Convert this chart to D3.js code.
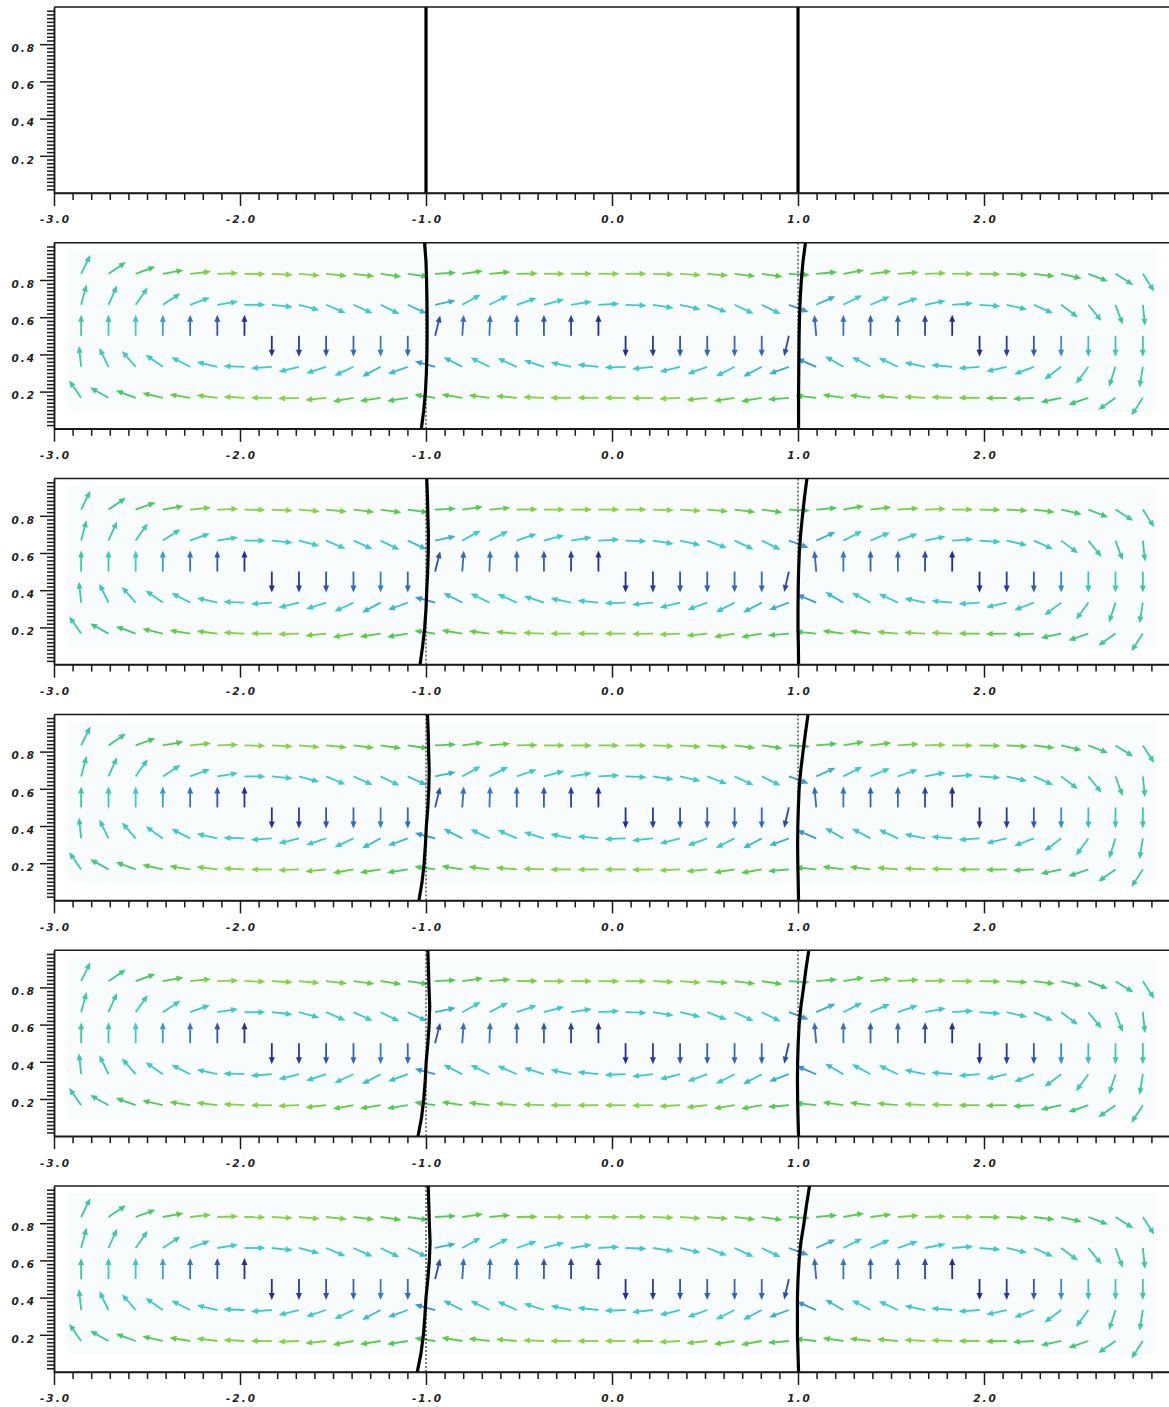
<!DOCTYPE html>
<html>
<head>
<meta charset="utf-8">
<script src="https://cdn.jsdelivr.net/npm/d3@7"></script>
<style>
	body { margin: 0; background: #fff; }
	svg { display: block; }
	.axis text { font-family: "DejaVu Sans", sans-serif; font-size: 10.5px; font-weight: bold; font-style: italic; letter-spacing: 2px; fill: #222; }
	.axis path, .axis line { stroke: #1a1a1a; stroke-width: 1.5; }
</style>
</head>
<body>
<div id="chart"></div>
<script>
// grid of the velocity field (columns / rows)
var gridX = [-2.854, -2.707, -2.561, -2.415, -2.268, -2.122, -1.976, -1.829, -1.683, -1.537,
	-1.390, -1.244, -1.098, -0.951, -0.805, -0.659, -0.512, -0.366, -0.220, -0.073,
	0.073, 0.220, 0.366, 0.512, 0.659, 0.805, 0.951, 1.098, 1.244, 1.390,
	1.537, 1.683, 1.829, 1.976, 2.122, 2.268, 2.415, 2.561, 2.707, 2.854];
var gridY = [0.1667, 0.3333, 0.5, 0.6667, 0.8333];

// arrow direction (degrees, counter-clockwise from +x) per row, bottom to top
var angleRow1 = [125, 151, 160, 167, 171, 173, 177, 180, 182, 186, 190, 189, 189, 172, 171, 173, 175, 178, 180, 180,
	180, 181, 183, 186, 189, 190, 185, 174, 172, 173, 175, 177, 178, 180, 181, 183, 192, 199, 215, 237];
var angleRow2 = [96, 116, 131, 145, 153, 167, 178, 184, 194, 198, 205, 208, 200, 165, 153, 154, 156, 162, 168, 174,
	182, 186, 194, 200, 207, 208, 200, 157, 150, 152, 155, 168, 175, 184, 193, 201, 217, 234, 252, 261];
var angleRow3 = [90, 90, 90, 90, 90, 90, 90, -90, -90, -90, -90, -90, -90, 76, 86, 88, 90, 90, 90, 90,
	-90, -90, -90, -90, -90, -90, -103, 95, 90, 90, 90, 90, 90, -90, -90, -90, -90, -90, -90, -90];
var angleRow4 = [75, 66, 55, 33, 20, 9, 0, -6, -15, -23, -24, -26, -25, 12, 29, 27, 19, 15, 9, 3,
	-2, -9, -13, -21, -25, -26, -20, 24, 27, 23, 19, 11, 4, -4, -13, -24, -37, -51, -70, -84];
var angleRow5 = [64, 34, 20, 10, 6, 2, -1, -3, -5, -6, -7, -8, -8, 3, 8, 5, 1, 0, 0, 0,
	0, -2, -4, -5, -7, -8, -3, 5, 10, 7, 4, 2, 0, -1, -3, -7, -13, -21, -32, -57];

// relative speed (colour level) per row, bottom to top
var speedRow1 = [0.6, 0.68, 0.76, 0.82, 0.86, 0.88, 0.9, 0.9, 0.9, 0.88, 0.86, 0.84, 0.8, 0.8, 0.84, 0.86, 0.88, 0.9, 0.9, 0.9,
	0.9, 0.9, 0.9, 0.88, 0.86, 0.84, 0.8, 0.8, 0.84, 0.86, 0.88, 0.9, 0.9, 0.88, 0.86, 0.8, 0.76, 0.72, 0.65, 0.62];
var speedRow2 = [0.6, 0.56, 0.54, 0.52, 0.52, 0.52, 0.52, 0.52, 0.52, 0.52, 0.52, 0.5, 0.5, 0.42, 0.5, 0.52, 0.52, 0.52, 0.52, 0.52,
	0.52, 0.52, 0.52, 0.52, 0.52, 0.5, 0.48, 0.42, 0.5, 0.52, 0.52, 0.52, 0.52, 0.52, 0.52, 0.54, 0.56, 0.58, 0.6, 0.62];
var speedRow3 = [0.64, 0.58, 0.52, 0.45, 0.34, 0.25, 0.1, 0.1, 0.16, 0.24, 0.3, 0.36, 0.3, 0.22, 0.32, 0.34, 0.3, 0.26, 0.18, 0.08,
	0.08, 0.16, 0.24, 0.28, 0.3, 0.3, 0.2, 0.3, 0.34, 0.28, 0.3, 0.2, 0.08, 0.06, 0.16, 0.26, 0.4, 0.5, 0.58, 0.64];
var speedRow4 = [0.62, 0.6, 0.58, 0.56, 0.54, 0.52, 0.52, 0.52, 0.52, 0.52, 0.52, 0.52, 0.5, 0.48, 0.52, 0.52, 0.52, 0.52, 0.52, 0.52,
	0.52, 0.52, 0.52, 0.52, 0.52, 0.52, 0.45, 0.48, 0.52, 0.52, 0.52, 0.52, 0.52, 0.52, 0.54, 0.56, 0.58, 0.6, 0.62, 0.64];
var speedRow5 = [0.62, 0.7, 0.78, 0.82, 0.88, 0.9, 0.9, 0.9, 0.9, 0.88, 0.86, 0.84, 0.8, 0.8, 0.84, 0.86, 0.88, 0.9, 0.9, 0.9,
	0.9, 0.9, 0.9, 0.88, 0.86, 0.84, 0.8, 0.8, 0.84, 0.86, 0.88, 0.9, 0.9, 0.88, 0.86, 0.82, 0.78, 0.72, 0.65, 0.6];

// interface positions per panel (x at each interfaceY)
var interfaceY = [0, 0.1, 0.2, 0.3, 0.4, 0.5, 0.6, 0.7, 0.8, 0.9, 1.0];
var leftInterface = [
	[-1, -1, -1, -1, -1, -1, -1, -1, -1, -1, -1],
	[-1.025, -1.012, -1.003, -0.998, -0.995, -0.994, -0.994, -0.995, -0.997, -1.0, -1.008],
	[-1.032, -1.018, -1.007, -1.0, -0.996, -0.991, -0.988, -0.987, -0.99, -0.992, -0.996],
	[-1.038, -1.021, -1.01, -1.003, -0.998, -0.99, -0.985, -0.983, -0.986, -0.988, -0.992],
	[-1.043, -1.024, -1.012, -1.004, -0.999, -0.99, -0.983, -0.98, -0.984, -0.987, -0.99],
	[-1.047, -1.027, -1.014, -1.006, -1.0, -0.99, -0.982, -0.978, -0.982, -0.985, -0.988]
];
var rightInterface = [
	[1, 1, 1, 1, 1, 1, 1, 1, 1, 1, 1],
	[1.003, 1.003, 1.003, 1.004, 1.005, 1.006, 1.008, 1.012, 1.018, 1.027, 1.04],
	[1.003, 1.002, 1.0, 1.0, 1.001, 1.003, 1.007, 1.014, 1.024, 1.035, 1.048],
	[1.003, 1.001, 0.999, 0.998, 0.999, 1.002, 1.006, 1.015, 1.027, 1.04, 1.054],
	[1.003, 1.0, 0.998, 0.997, 0.998, 1.001, 1.006, 1.016, 1.03, 1.043, 1.058],
	[1.003, 1.0, 0.997, 0.997, 0.997, 1.0, 1.006, 1.016, 1.032, 1.046, 1.062]
];
var hasField = [false, true, true, true, true, true];

var xTicks = [-3, -2, -1, 0, 1, 2];
var xTickLabels = ["-3.0", "-2.0", "-1.0", "0.0", "1.0", "2.0"];
var yTicks = [0.2, 0.4, 0.6, 0.8];
var yTickLabels = ["0.2", "0.4", "0.6", "0.8"];

var width = 1169,
	height = 1407,
	left = 54,
	panelTop = 7,
	panelStep = 235.8,
	panelHeight = 186;

var arrowLen = 21,
	headLen = 7,
	headHalf = 3;

var x = d3.scaleLinear().domain([-3, 3]).range([left, left + 6 * 186]);

var color = d3.scaleLinear()
	.domain([0, 0.15, 0.3, 0.45, 0.52, 0.62, 0.75, 0.85, 0.92])
	.range(["#1e1e86", "#2838a0", "#3468b8", "#38a0d0", "#3ccaca", "#3cc8a8", "#40c870", "#5ccc40", "#98d640"])
	.interpolate(d3.interpolateRgb)
	.clamp(true);

var rowAngles = [angleRow1, angleRow2, angleRow3, angleRow4, angleRow5];
var rowSpeeds = [speedRow1, speedRow2, speedRow3, speedRow4, speedRow5];
var vectors = [];
gridY.forEach(function(yv, r) {
	gridX.forEach(function(xv, i) {
		vectors.push({x: xv, y: yv, a: rowAngles[r][i], s: rowSpeeds[r][i]});
	});
});

var xMinor = d3.range(-30, 31).filter(function(d) { return d % 10 !== 0; }).map(function(d) { return d / 10; });
var yMinor = d3.range(1, 50).filter(function(d) { return d % 10 !== 0; }).map(function(d) { return d / 50; });

var svg = d3.select("#chart").append("svg")
	.attr("width", width)
	.attr("height", height);

leftInterface.forEach(function(leftX, k) {
	var top = panelTop + k * panelStep;
	var y = d3.scaleLinear().domain([0, 1]).range([top + panelHeight, top]);
	var g = svg.append("g").attr("class", "panel");

	if (hasField[k]) {
		// faint halo around the field
		g.append("rect")
			.attr("x", x(-2.93))
			.attr("y", y(0.96))
			.attr("width", x(2.93) - x(-2.93))
			.attr("height", y(0.09) - y(0.96))
			.attr("fill", "#f8fcfc");

		var arrows = g.selectAll("g.arrow")
			.data(vectors)
			.enter()
			.append("g")
			.attr("class", "arrow")
			.attr("transform", function(d) {
				return "translate(" + x(d.x) + "," + y(d.y) + ") rotate(" + (-d.a) + ")";
			});

		arrows.append("line")
			.attr("x1", 0)
			.attr("y1", 0)
			.attr("x2", arrowLen - headLen + 1)
			.attr("y2", 0)
			.attr("stroke", function(d) { return color(d.s); })
			.attr("stroke-width", 1.8);

		arrows.append("path")
			.attr("d", "M" + arrowLen + ",0L" + (arrowLen - headLen) + "," + (-headHalf) + "L" + (arrowLen - headLen) + "," + headHalf + "Z")
			.attr("fill", function(d) { return color(d.s); });

		// initial interface positions
		[-1, 1].forEach(function(xv) {
			g.append("line")
				.attr("x1", x(xv)).attr("x2", x(xv))
				.attr("y1", y(0)).attr("y2", y(1))
				.attr("stroke", "#000")
				.attr("stroke-width", 1)
				.attr("stroke-dasharray", "2,2");
		});
	}

	var front = d3.line()
		.x(function(d) { return x(d[0]); })
		.y(function(d) { return y(d[1]); });

	[leftX, rightInterface[k]].forEach(function(xs) {
		g.append("path")
			.attr("d", front(xs.map(function(xv, j) { return [xv, interfaceY[j]]; })))
			.attr("fill", "none")
			.attr("stroke", "#000")
			.attr("stroke-width", 3.2);
	});

	// frame: top border
	g.append("line")
		.attr("x1", x(-3)).attr("x2", width)
		.attr("y1", y(1)).attr("y2", y(1))
		.attr("stroke", "#1a1a1a")
		.attr("stroke-width", 1.5);

	// axes
	g.append("g")
		.attr("class", "axis")
		.attr("transform", "translate(0," + y(0) + ")")
		.call(d3.axisBottom(x).tickValues(xMinor).tickSize(7).tickSizeOuter(0).tickFormat(""));

	var xa = g.append("g")
		.attr("class", "axis")
		.attr("transform", "translate(0," + y(0) + ")")
		.call(d3.axisBottom(x).tickValues(xTicks).tickSize(13).tickSizeOuter(0).tickPadding(10)
			.tickFormat(function(d, i) { return xTickLabels[i]; }));
	xa.select(".domain").attr("d", "M" + x(-3) + ",0H" + width);
	xa.selectAll("text").attr("dx", "1px");

	g.append("g")
		.attr("class", "axis")
		.attr("transform", "translate(" + x(-3) + ",0)")
		.call(d3.axisLeft(y).tickValues(yMinor).tickSize(7).tickSizeOuter(0).tickFormat(""));

	var ya = g.append("g")
		.attr("class", "axis")
		.attr("transform", "translate(" + x(-3) + ",0)")
		.call(d3.axisLeft(y).tickValues(yTicks).tickSize(14).tickSizeOuter(0).tickPadding(4)
			.tickFormat(function(d, i) { return yTickLabels[i]; }));
	ya.selectAll("text").attr("dy", "0.7em");
});
</script>
</body>
</html>
